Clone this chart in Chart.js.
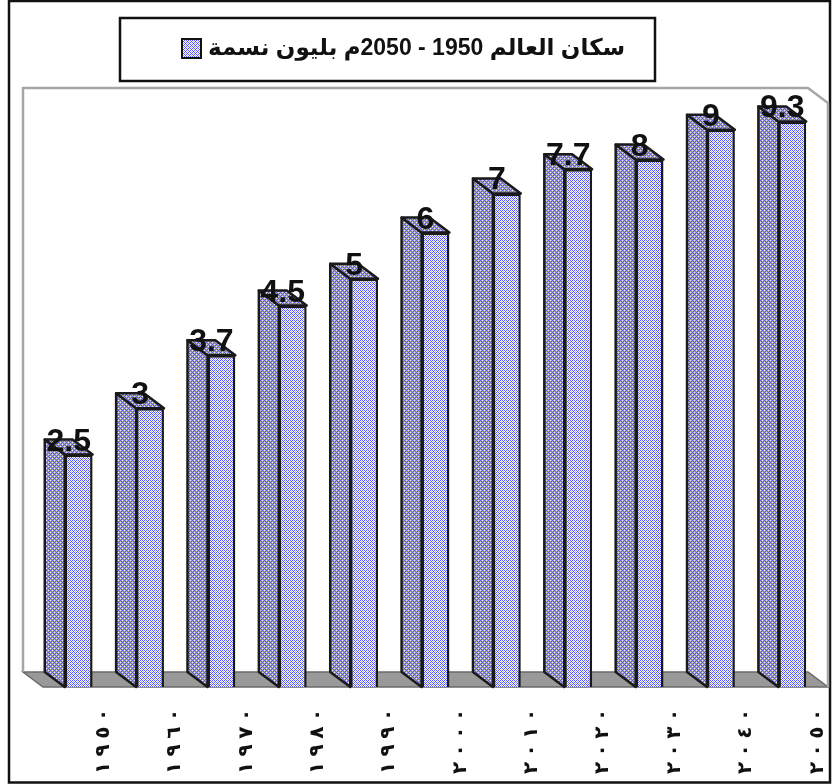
<!DOCTYPE html>
<html>
<head>
<meta charset="utf-8">
<script src="https://cdn.jsdelivr.net/npm/chart.js@4.4.1/dist/chart.umd.min.js"></script>
<style>
  html, body { margin: 0; padding: 0; background: #fff; }
  #wrap { width: 832px; height: 784px; }
</style>
</head>
<body>
<div id="wrap"><canvas id="chart" width="832" height="784"></canvas></div>
<script>
const years = ['١٩٥٠', '١٩٦٠', '١٩٧٠', '١٩٨٠', '١٩٩٠', '٢٠٠٠', '٢٠١٠', '٢٠٢٠', '٢٠٣٠', '٢٠٤٠', '٢٠٥٠'];
const population = [2.5, 3, 3.7, 4.5, 5, 6, 7, 7.7, 8, 9, 9.3];
const seriesName = 'سكان العالم 1950 - 2050م بليون نسمة';

// depth of the 3d effect
const DX = 20, DY = 15;

function makePattern(base, dots) {
    const c = document.createElement('canvas');
    c.width = 4; c.height = 4;
    const g = c.getContext('2d');
    g.fillStyle = base;
    g.fillRect(0, 0, 4, 4);
    dots.forEach(d => {
        g.fillStyle = d[2];
        g.fillRect(d[0], d[1], 1, 1);
    });
    return g.createPattern(c, 'repeat');
}

const blue = '#5555ff';
const frontFill = makePattern('#ffffff', [
    [0, 0, blue], [2, 0, blue], [1, 1, '#b0b0f0'], [3, 1, blue],
    [0, 2, blue], [2, 2, blue], [1, 3, blue], [3, 3, '#b0b0f0']
]);
const sideFill = makePattern('#a8a8a8', [
    [0, 0, blue], [2, 0, '#e4e4f4'], [1, 1, blue], [3, 1, blue],
    [0, 2, '#e4e4f4'], [2, 2, blue], [1, 3, blue], [3, 3, '#7070d8']
]);

const framePlugin = {
    id: 'frame',
    beforeDraw(chart) {
        const ctx = chart.ctx;
        ctx.save();
        ctx.fillStyle = '#fff';
        ctx.fillRect(0, 0, chart.width, chart.height);
        ctx.strokeStyle = '#111';
        ctx.lineWidth = 2.5;
        ctx.strokeRect(9, 1, chart.width - 11, chart.height - 2.5);

        // legend box with swatch and series name
        const bx = 120, by = 18, bw = 535, bh = 63;
        ctx.strokeRect(bx, by, bw, bh);
        const sx = bx + 62, sy = by + 21;
        ctx.fillStyle = frontFill;
        ctx.fillRect(sx, sy, 19, 19);
        ctx.lineWidth = 2;
        ctx.strokeRect(sx, sy, 19, 19);
        ctx.fillStyle = '#111';
        ctx.font = 'bold 23px "Liberation Sans", "DejaVu Sans", sans-serif';
        ctx.textAlign = 'left';
        ctx.textBaseline = 'middle';
        ctx.fillText(chart.data.datasets[0].label, sx + 26, sy + 10);
        ctx.restore();
    }
};

// year labels: each digit turned on its side and stacked upwards
const yearLabelsPlugin = {
    id: 'yearLabels',
    afterDraw(chart) {
        const ctx = chart.ctx;
        const xs = chart.scales.x;
        ctx.save();
        ctx.fillStyle = '#111';
        ctx.font = 'bold 20px "DejaVu Sans", sans-serif';
        ctx.textAlign = 'center';
        ctx.textBaseline = 'middle';
        chart.data.labels.forEach((label, i) => {
            const x = xs.getPixelForTick(i) + 25;
            Array.from(label).forEach((ch, j) => {
                ctx.save();
                ctx.translate(x, xs.bottom - 16 - j * 17.7);
                ctx.rotate(-Math.PI / 2);
                ctx.fillText(ch, 0, 0);
                ctx.restore();
            });
        });
        ctx.restore();
    }
};

const wallPlugin = {
    id: 'walls',
    beforeDatasetsDraw(chart) {
        const ctx = chart.ctx;
        const a = chart.chartArea;
        ctx.save();
        // floor
        ctx.beginPath();
        ctx.moveTo(a.left - DX, a.bottom - DY);
        ctx.lineTo(a.right - DX, a.bottom - DY);
        ctx.lineTo(a.right, a.bottom);
        ctx.lineTo(a.left, a.bottom);
        ctx.closePath();
        ctx.fillStyle = '#999999';
        ctx.fill();
        ctx.strokeStyle = '#6a6a6a';
        ctx.lineWidth = 1.5;
        ctx.stroke();
        // back and side walls
        ctx.strokeStyle = '#a6a6a6';
        ctx.lineWidth = 2.5;
        ctx.beginPath();
        ctx.moveTo(a.left - DX, a.bottom - DY);
        ctx.lineTo(a.left - DX, a.top - DY);
        ctx.lineTo(a.right - DX, a.top - DY);
        ctx.lineTo(a.right, a.top);
        ctx.lineTo(a.right, a.bottom);
        ctx.stroke();

        // side and top faces of the bars
        const meta = chart.getDatasetMeta(0);
        ctx.strokeStyle = '#1a1a1a';
        ctx.lineWidth = 2.5;
        ctx.lineJoin = 'round';
        meta.data.forEach(bar => {
            const p = bar.getProps(['x', 'y', 'base', 'width'], true);
            const l = p.x - p.width / 2, r = p.x + p.width / 2;
            ctx.beginPath();
            ctx.moveTo(l, p.y);
            ctx.lineTo(l - DX, p.y - DY);
            ctx.lineTo(l - DX, p.base - DY);
            ctx.lineTo(l, p.base);
            ctx.closePath();
            ctx.fillStyle = sideFill;
            ctx.fill();
            ctx.stroke();
            ctx.beginPath();
            ctx.moveTo(l, p.y);
            ctx.lineTo(l - DX, p.y - DY);
            ctx.lineTo(r - DX, p.y - DY);
            ctx.lineTo(r, p.y);
            ctx.closePath();
            ctx.fill();
            ctx.stroke();
        });
        ctx.restore();
    },
    afterDatasetsDraw(chart) {
        const ctx = chart.ctx;
        const meta = chart.getDatasetMeta(0);
        const values = chart.data.datasets[0].data;
        ctx.save();
        ctx.fillStyle = '#111';
        ctx.font = 'bold 32px "Liberation Sans", Arial, sans-serif';
        ctx.textAlign = 'center';
        ctx.textBaseline = 'alphabetic';
        meta.data.forEach((bar, i) => {
            const p = bar.getProps(['x', 'y'], true);
            ctx.fillText(String(values[i]), p.x - DX / 2, p.y - 4);
        });
        ctx.restore();
    }
};

new Chart(document.getElementById('chart'), {
    type: 'bar',
    data: {
        labels: years,
        datasets: [{
            label: seriesName,
            data: population,
            backgroundColor: frontFill,
            borderColor: '#1a1a1a',
            borderWidth: 2.5,
            barPercentage: 0.39,
            categoryPercentage: 1
        }]
    },
    options: {
        responsive: false,
        animation: false,
        devicePixelRatio: 1,
        layout: { padding: { left: 43, right: 4, top: 103, bottom: 0 } },
        plugins: {
            legend: { display: false },
            tooltip: { enabled: false }
        },
        scales: {
            x: {
                grid: { display: false, drawTicks: false },
                border: { display: false },
                ticks: { display: false },
                afterFit(axis) {
                    axis.height = 97;
                    axis.paddingLeft = 0;
                    axis.paddingRight = 0;
                }
            },
            y: {
                type: 'logarithmic',
                display: false,
                min: 1,
                max: 10
            }
        }
    },
    plugins: [framePlugin, wallPlugin, yearLabelsPlugin]
});
</script>
</body>
</html>
